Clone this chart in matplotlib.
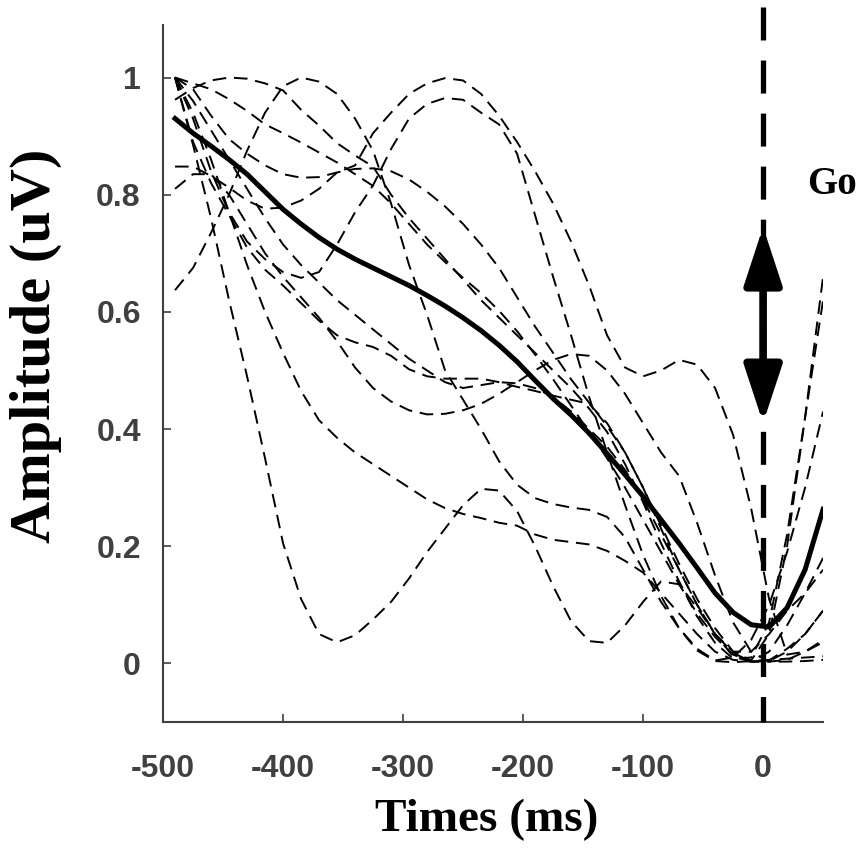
import matplotlib
matplotlib.use("Agg")
import matplotlib.pyplot as plt
from matplotlib.patches import FancyArrowPatch

# ── data ──────────────────────────────────────────────────────────────────────
times = [-490, -475, -460, -445, -430, -415, -400, -385, -370, -355, -340, -325,
         -310, -295, -280, -265, -250, -235, -220, -205, -190, -175, -160, -145,
         -130, -115, -100, -85, -70, -55, -40, -25, -10, 5, 20, 35, 50]

mean_amp = [0.93, 0.905, 0.883, 0.86, 0.835, 0.805, 0.775, 0.75, 0.727, 0.707,
            0.69, 0.675, 0.66, 0.645, 0.628, 0.61, 0.59, 0.568, 0.543, 0.515,
            0.483, 0.452, 0.424, 0.393, 0.358, 0.322, 0.285, 0.245, 0.205, 0.163,
            0.12, 0.087, 0.066, 0.062, 0.095, 0.16, 0.263]

trial_01 = [1.0, 0.885, 0.76, 0.62, 0.49, 0.35, 0.205, 0.11, 0.05, 0.036, 0.048,
            0.075, 0.105, 0.145, 0.19, 0.23, 0.27, 0.298, 0.295, 0.26, 0.2, 0.132,
            0.072, 0.038, 0.035, 0.065, 0.105, 0.14, 0.135, 0.095, 0.05, 0.012,
            0.003, 0.02, 0.065, 0.12, 0.18]
trial_02 = [0.637, 0.675, 0.735, 0.8, 0.875, 0.94, 0.985, 1.0, 0.993, 0.972, 0.93,
            0.875, 0.785, 0.68, 0.595, 0.5, 0.45, 0.4, 0.345, 0.305, 0.282, 0.272,
            0.266, 0.262, 0.25, 0.215, 0.16, 0.105, 0.06, 0.025, 0.005, 0.01, 0.04,
            0.1, 0.19, 0.3, 0.43]
trial_03 = [0.962, 0.982, 0.995, 1.0, 0.998, 0.99, 0.978, 0.945, 0.918, 0.888,
            0.867, 0.848, 0.8, 0.76, 0.725, 0.69, 0.655, 0.62, 0.59, 0.56, 0.53,
            0.5, 0.47, 0.435, 0.395, 0.34, 0.275, 0.205, 0.14, 0.08, 0.035, 0.008,
            0.01, 0.07, 0.22, 0.42, 0.62]
trial_04 = [1.0, 0.98, 0.935, 0.895, 0.87, 0.85, 0.835, 0.829, 0.83, 0.838, 0.844,
            0.845, 0.84, 0.826, 0.805, 0.78, 0.75, 0.715, 0.675, 0.625, 0.575, 0.53,
            0.485, 0.445, 0.405, 0.36, 0.3, 0.23, 0.16, 0.1, 0.05, 0.018, 0.003,
            0.004, 0.02, 0.05, 0.09]
trial_05 = [1.0, 0.93, 0.84, 0.77, 0.72, 0.69, 0.668, 0.658, 0.668, 0.715, 0.77,
            0.816, 0.878, 0.93, 0.955, 0.965, 0.962, 0.94, 0.92, 0.87, 0.765, 0.66,
            0.56, 0.455, 0.36, 0.27, 0.185, 0.115, 0.06, 0.022, 0.004, 0.002, 0.004,
            0.006, 0.008, 0.01, 0.012]
trial_06 = [0.848, 0.848, 0.832, 0.812, 0.79, 0.776, 0.778, 0.79, 0.81, 0.838, 0.85,
            0.905, 0.94, 0.972, 0.99, 0.999, 0.995, 0.972, 0.935, 0.89, 0.84, 0.785,
            0.72, 0.645, 0.56, 0.505, 0.49, 0.5, 0.518, 0.51, 0.47, 0.39, 0.265,
            0.11, 0.015, 0.02, 0.04]
trial_07 = [1.0, 0.89, 0.82, 0.765, 0.71, 0.672, 0.645, 0.615, 0.585, 0.56, 0.548,
            0.54, 0.525, 0.502, 0.49, 0.486, 0.486, 0.486, 0.48, 0.472, 0.465,
            0.457, 0.45, 0.443, 0.41, 0.36, 0.3, 0.235, 0.17, 0.11, 0.06, 0.02,
            0.005, 0.05, 0.2, 0.42, 0.66]
trial_08 = [0.81, 0.835, 0.835, 0.8, 0.75, 0.7, 0.66, 0.625, 0.59, 0.55, 0.505,
            0.47, 0.447, 0.432, 0.425, 0.426, 0.432, 0.443, 0.46, 0.48, 0.5, 0.518,
            0.528, 0.525, 0.5, 0.46, 0.41, 0.36, 0.32, 0.24, 0.15, 0.07, 0.02,
            0.003, 0.003, 0.004, 0.006]
trial_09 = [1.0, 0.94, 0.86, 0.77, 0.68, 0.6, 0.53, 0.465, 0.415, 0.385, 0.36,
            0.34, 0.32, 0.3, 0.28, 0.265, 0.255, 0.248, 0.24, 0.235, 0.22, 0.211,
            0.207, 0.203, 0.192, 0.175, 0.155, 0.12, 0.085, 0.05, 0.02, 0.006,
            0.003, 0.003, 0.006, 0.02, 0.036]
trial_10 = [1.0, 0.96, 0.91, 0.86, 0.81, 0.76, 0.715, 0.68, 0.65, 0.62, 0.595,
            0.57, 0.545, 0.52, 0.5, 0.48, 0.47, 0.475, 0.48, 0.478, 0.47, 0.455,
            0.43, 0.4, 0.37, 0.33, 0.28, 0.22, 0.16, 0.1, 0.05, 0.02, 0.02, 0.05,
            0.09, 0.12, 0.16]
trial_11 = [1.0, 0.99, 0.98, 0.963, 0.943, 0.92, 0.905, 0.889, 0.872, 0.855, 0.835,
            0.815, 0.785, 0.75, 0.715, 0.685, 0.658, 0.632, 0.602, 0.567, 0.527,
            0.485, 0.44, 0.395, 0.35, 0.3, 0.245, 0.19, 0.135, 0.085, 0.045, 0.015,
            0.003, 0.005, 0.025, 0.05, 0.09]

trials = [trial_01, trial_02, trial_03, trial_04, trial_05, trial_06,
          trial_07, trial_08, trial_09, trial_10, trial_11]

x_ticks = [-500, -400, -300, -200, -100, 0]
x_tick_labels = ['-500', '-400', '-300', '-200', '-100', '0']
y_ticks = [0, 0.2, 0.4, 0.6, 0.8, 1]
y_tick_labels = ['0', '0.2', '0.4', '0.6', '0.8', '1']

# ── figure ────────────────────────────────────────────────────────────────────
axis_grey = '#404040'

fig = plt.figure(figsize=(8.59, 8.55), dpi=100)
ax = fig.add_axes([0.1898, 0.1556, 0.7684, 0.8154])

for amp in trials:
    ax.plot(times, amp, color='black', lw=1.4, linestyle=(0, (7, 4)), zorder=2)

ax.plot(times, mean_amp, color='black', lw=3.6, zorder=3)

# go cue
ax.plot([0, 0], [1.121, -0.1], color='black', lw=3.8,
        linestyle=(0, (6.25, 3.8)), clip_on=False, zorder=4)
arrow = FancyArrowPatch((0, 0.41), (0, 0.745),
                        arrowstyle='<|-|>,head_length=35,head_width=11.5',
                        mutation_scale=1, lw=5.5, color='black',
                        shrinkA=0, shrinkB=0, zorder=5)
ax.add_patch(arrow)
ax.text(37, 0.817, 'Go', fontsize=28, fontweight='bold',
        family='Liberation Serif', va='center', ha='left', clip_on=False)

ax.set_xlim(-500, 50)
ax.set_ylim(-0.1, 1.09)

for side in ['top', 'right']:
    ax.spines[side].set_visible(False)
for side in ['left', 'bottom']:
    ax.spines[side].set_color(axis_grey)
    ax.spines[side].set_linewidth(1.5)

ax.set_xticks(x_ticks)
ax.set_xticklabels(x_tick_labels)
ax.set_yticks(y_ticks)
ax.set_yticklabels(y_tick_labels)
ax.tick_params(direction='in', length=6, width=1.2, colors=axis_grey)
ax.tick_params(axis='x', pad=23)
ax.tick_params(axis='y', pad=16)
for lab in ax.get_xticklabels() + ax.get_yticklabels():
    lab.set_fontfamily('Liberation Sans')
    lab.set_fontweight('bold')
    lab.set_fontsize(23)
    lab.set_color(axis_grey)

fig.text(36 / 859, 1 - 346 / 855, 'Amplitude (uV)', rotation=90,
         fontsize=42, fontweight='bold', family='Liberation Serif',
         ha='center', va='center')
fig.text(487 / 859, 1 - 820 / 855, 'Times (ms)', fontsize=34,
         fontweight='bold', family='Liberation Serif', ha='center', va='center')

fig.savefig('out.png', dpi=100)
